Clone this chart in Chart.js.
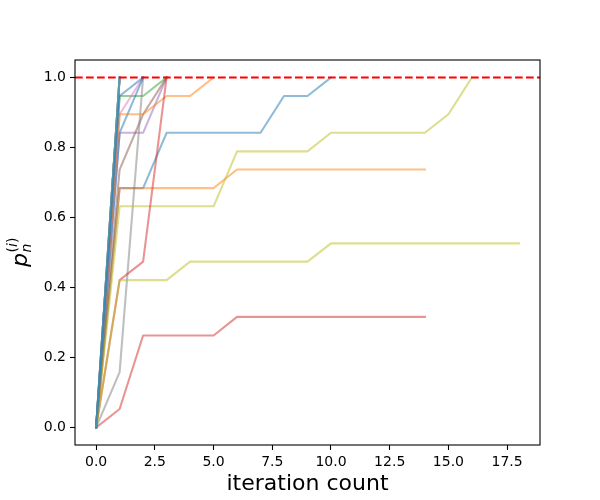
<!DOCTYPE html>
<html>
<head>
<meta charset="utf-8">
<script src="https://cdn.jsdelivr.net/npm/chart.js@4.4.1/dist/chart.umd.min.js"></script>
<style>
  html, body { margin: 0; padding: 0; background: #fff; }
  #wrap { width: 600px; height: 500px; }
</style>
</head>
<body>
<div id="wrap"><canvas id="graph" width="600" height="500"></canvas></div>
<script>
// p_n pour chaque run, une valeur par itération
const run01 = [0, 0.684, 0.684, 0.842, 0.842, 0.842, 0.842, 0.842, 0.947, 0.947, 1.0];
const run02 = [0, 0.684, 0.684, 0.684, 0.684, 0.684, 0.737, 0.737, 0.737, 0.737, 0.737, 0.737, 0.737, 0.737, 0.737];
const run03 = [0, 0.947, 0.947, 1.0];
const run04 = [0, 0.053, 0.263, 0.263, 0.263, 0.263, 0.316, 0.316, 0.316, 0.316, 0.316, 0.316, 0.316, 0.316, 0.316];
const run05 = [0, 0.842, 0.842, 1.0];
const run06 = [0, 0.737, 0.895, 1.0];
const run07 = [0, 0.895, 1.0];
const run08 = [0, 0.158, 1.0];
const run09 = [0, 0.632, 0.632, 0.632, 0.632, 0.632, 0.789, 0.789, 0.789, 0.789, 0.842, 0.842, 0.842, 0.842, 0.842, 0.895, 1.0];
const run10 = [0, 1.0];
const run11 = [0, 0.842, 1.0];
const run12 = [0, 0.895, 0.895, 0.947, 0.947, 1.0];
const run13 = [0, 1.0];
const run14 = [0, 0.421, 0.474, 1.0];
const run15 = [0, 1.0];
const run16 = [0, 1.0];
const run17 = [0, 1.0];
const run18 = [0, 1.0];
const run19 = [0, 0.421, 0.421, 0.421, 0.474, 0.474, 0.474, 0.474, 0.474, 0.474, 0.526, 0.526, 0.526, 0.526, 0.526, 0.526, 0.526, 0.526, 0.526];
const run20 = [0, 1.0];
const run21 = [0, 0.947, 1.0];

const runs = [run01, run02, run03, run04, run05, run06, run07, run08, run09, run10,
              run11, run12, run13, run14, run15, run16, run17, run18, run19, run20, run21];

const seuil = 1.0;
const xTicks = [0, 2.5, 5, 7.5, 10, 12.5, 15, 17.5];
const yTicks = [0, 0.2, 0.4, 0.6, 0.8, 1.0];
const xMin = -0.9, xMax = 18.9;
const yMin = -0.05, yMax = 1.05;

const couleurs = ['#1f77b4', '#ff7f0e', '#2ca02c', '#d62728', '#9467bd',
                  '#8c564b', '#e377c2', '#7f7f7f', '#bcbd22', '#17becf'];

function rgba(hex, a) {
    let r = parseInt(hex.slice(1, 3), 16);
    let g = parseInt(hex.slice(3, 5), 16);
    let b = parseInt(hex.slice(5, 7), 16);
    return 'rgba(' + r + ',' + g + ',' + b + ',' + a + ')';
}

let datasets = runs.map((run, i) => ({
    data: run.map((v, k) => ({x: k, y: v})),
    borderColor: rgba(couleurs[i % couleurs.length], 0.5),
    borderWidth: 2.08,
    borderJoinStyle: 'round',
    borderCapStyle: 'square',
    pointRadius: 0,
    fill: false,
    tension: 0,
    order: runs.length - i
}));

// ligne rouge pointillée à p = 1
datasets.push({
    data: [{x: xMin, y: seuil}, {x: xMax, y: seuil}],
    borderColor: '#ff0000',
    borderWidth: 2.08,
    borderDash: [7.7, 3.3],
    pointRadius: 0,
    fill: false,
    order: 0
});

// cadre complet + label y avec indice / exposant
const cadre = {
    id: 'cadre',
    afterDraw(chart) {
        const ctx = chart.ctx;
        const a = chart.chartArea;
        ctx.save();
        ctx.strokeStyle = '#000';
        ctx.lineWidth = 1.1;
        ctx.strokeRect(a.left, a.top, a.right - a.left, a.bottom - a.top);

        ctx.translate(27, (a.top + a.bottom) / 2);
        ctx.rotate(-Math.PI / 2);
        ctx.fillStyle = '#000';
        ctx.textBaseline = 'alphabetic';
        ctx.textAlign = 'left';
        const big = 'italic 22px "DejaVu Sans"';
        const petitI = 'italic 14px "DejaVu Sans"';
        const petit = '14px "DejaVu Sans"';
        ctx.font = big;
        const wp = ctx.measureText('p').width;
        ctx.font = petitI;
        const wn = ctx.measureText('n').width;
        const wi = ctx.measureText('i').width;
        ctx.font = petit;
        const wpar = ctx.measureText('(').width;
        const total = wp + Math.max(wn, wi + 2 * wpar);
        let x0 = -total / 2;
        ctx.font = big;
        ctx.fillText('p', x0, 0);
        let xs = x0 + wp + 0.5;
        ctx.font = petitI;
        ctx.fillText('n', xs, 4);
        ctx.font = petit;
        ctx.fillText('(', xs, -10);
        ctx.font = petitI;
        ctx.fillText('i', xs + wpar, -10);
        ctx.font = petit;
        ctx.fillText(')', xs + wpar + wi, -10);
        ctx.restore();
    }
};

const police = {family: 'DejaVu Sans', size: 14};

var ctx = document.getElementById('graph').getContext('2d');
var graph1 = new Chart(ctx, {
    type: 'line',
    data: {datasets: datasets},
    options: {
        responsive: false,
        animation: false,
        devicePixelRatio: 1,
        layout: {padding: {top: 60, right: 60, left: 0, bottom: 0}},
        plugins: {legend: {display: false}, tooltip: {enabled: false}},
        scales: {
            x: {
                type: 'linear',
                min: xMin,
                max: xMax,
                afterFit: function(scale) { scale.height = 55; },
                afterBuildTicks: function(scale) { scale.ticks = xTicks.map(v => ({value: v})); },
                grid: {display: true, drawOnChartArea: false, drawTicks: true, tickLength: 5, tickColor: '#000', tickWidth: 1.1},
                border: {display: false},
                ticks: {color: '#000', font: police, padding: 4, maxRotation: 0, autoSkip: false,
                        callback: v => v.toFixed(1)},
                title: {display: true, text: 'iteration count', color: '#000',
                        font: {family: 'DejaVu Sans', size: 22, lineHeight: 1.2},
                        padding: {top: 0, bottom: 3}}
            },
            y: {
                type: 'linear',
                min: yMin,
                max: yMax,
                afterFit: function(scale) { scale.width = 75; },
                afterBuildTicks: function(scale) { scale.ticks = yTicks.map(v => ({value: v})); },
                grid: {display: true, drawOnChartArea: false, drawTicks: true, tickLength: 5, tickColor: '#000', tickWidth: 1.1},
                border: {display: false},
                ticks: {color: '#000', font: police, padding: 4, autoSkip: false,
                        callback: v => v.toFixed(1)}
            }
        }
    },
    plugins: [cadre]
});
</script>
</body>
</html>
